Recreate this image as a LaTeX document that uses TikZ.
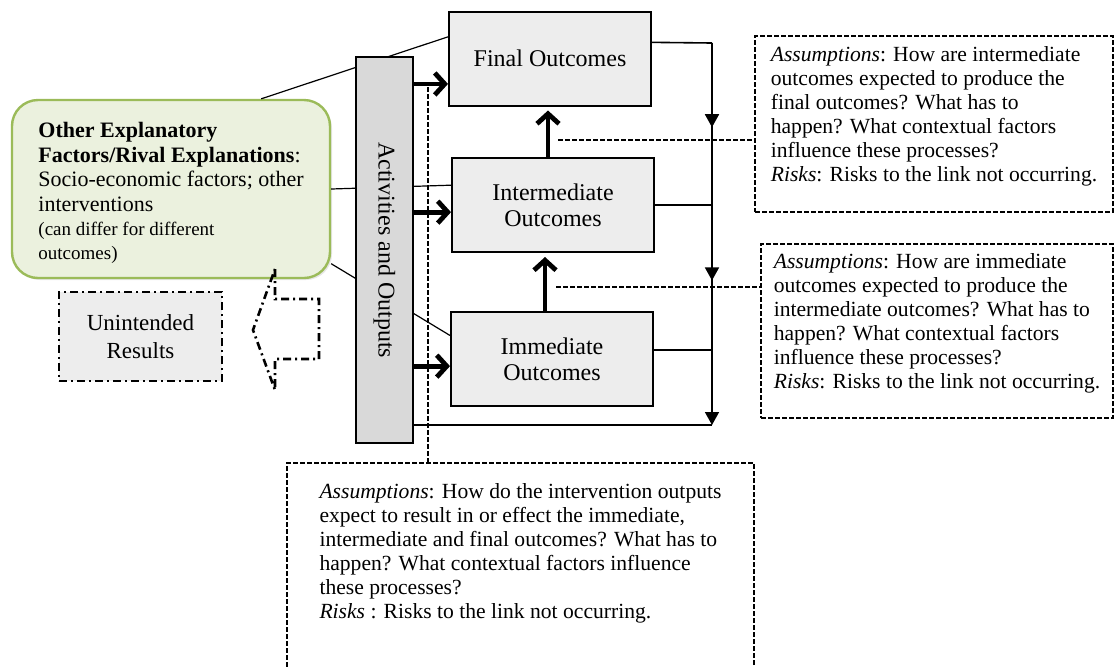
\documentclass[tikz,border=0pt]{standalone}
\usepackage{fontspec}
\setmainfont{Liberation Serif}
\usepackage{xcolor}
\usetikzlibrary{arrows.meta,shadows,decorations.markings}

\definecolor{rivalfill}{HTML}{EBF1DE}
\definecolor{rivaldraw}{HTML}{9BBB59}
\definecolor{boxgray}{HTML}{EDEDED}
\definecolor{bargray}{HTML}{D9D9D9}

\begin{document}
\begin{tikzpicture}[x=0.5pt,y=-0.5pt,
  outcome/.style={draw,fill=boxgray,line width=1pt,minimum width=101pt,minimum height=47pt,align=center,font=\fontsize{12}{13}\selectfont},
  assume/.style={draw,dash pattern=on 2.5pt off 1pt,line width=1.2pt,align=left,font=\fontsize{10.8}{12}\selectfont},
  dashdot/.style={dash pattern=on 4pt off 2pt on 1pt off 2pt,line width=1.3pt},
  link/.style={dash pattern=on 2.5pt off 1pt,line width=1.2pt},
  push/.style={line width=2.4pt,-{Straight Barb[length=5pt,width=11pt]}},
  loopline/.style={line width=0.8pt},
  midarrow/.style={postaction={decorate},decoration={markings,mark=at position 0.52 with {\arrow{Triangle[length=6.5pt,width=7pt]}}}},
  rivalline/.style={line width=0.6pt}]

\useasboundingbox (0,0) rectangle (1115,666);

% rival explanations and the outcome chain
\node[draw=rivaldraw,fill=rivalfill,line width=1.2pt,rounded corners=13pt,minimum width=159pt,minimum height=89pt,align=left,text height=73pt,font=\fontsize{11}{12.2}\selectfont,drop shadow={opacity=0.2,shadow xshift=1pt,shadow yshift=-1pt}] (other) at (171,189)
  {\textbf{Other Explanatory}\\\textbf{Factors/Rival Explanations}:\\Socio-economic factors; other\\interventions\\{\fontsize{9.5}{12.2}\selectfont(can differ for different}\\{\fontsize{9.5}{12.2}\selectfont outcomes)}};
\node[outcome] (final) at (550,58.5) {Final Outcomes};
\node[outcome] (inter) at (553,205) {Intermediate\\Outcomes};
\node[outcome] (immed) at (552,359) {Immediate\\Outcomes};

\draw[rivalline] (other.45) -- (final.168);
\draw[rivalline] (other.east) -- (inter.169);
\draw[rivalline] (other.-25) -- (immed.167);

\node[draw,fill=bargray,line width=1pt,rotate=-90,minimum width=193pt,minimum height=28.5pt,font=\fontsize{12}{13}\selectfont] (bar) at (384.5,250) {Activities and Outputs};

\node[draw,fill=boxgray,dashdot,minimum width=81.5pt,minimum height=44.5pt,align=center,font=\fontsize{11.5}{14}\selectfont] (unint) at (140.5,336.5) {Unintended\\Results};
\draw[dashdot] (275,269) -- (275,299) -- (319,299) -- (319,359) -- (275,359) -- (275,390) -- (253,330) -- cycle;

\draw[push] (bar.north |- final.194) -- (final.194);
\draw[push] (bar.north |- inter.184) -- (inter.184);
\draw[push] (bar.north |- immed.184) -- (immed.184);
\draw[push,shorten >=2pt] ([xshift=-2.5pt]inter.north) -- ([xshift=-2.5pt]inter.north |- final.south);
\draw[push,shorten >=2pt] ([xshift=-3.5pt]immed.north) -- ([xshift=-3.5pt]immed.north |- inter.south);

% feedback loop on the right
\coordinate (ltop) at (712,43);
\coordinate (lbot) at (712,425);
\draw[loopline] (final.9) -- (ltop);
\draw[loopline,midarrow] (ltop) -- (inter.east -| ltop);
\draw[loopline] (inter.east) -- (inter.east -| ltop);
\draw[loopline,midarrow] (inter.east -| ltop) -- (immed.5 -| ltop);
\draw[loopline] (immed.5) -- (immed.5 -| ltop);
\draw[loopline,-{Triangle[length=6.5pt,width=7pt]}] (immed.5 -| ltop) -- (lbot);
\draw[loopline] (bar.north |- lbot) -- (lbot);

% assumptions and risks
\node[assume,minimum width=179pt,minimum height=88pt,text depth=10pt] (ass1) at (934,124)
  {\textit{Assumptions}: How are intermediate\\outcomes expected to produce the\\final outcomes? What has to\\happen? What contextual factors\\influence these processes?\\\textit{Risks}: Risks to the link not occurring.};
\node[assume,minimum width=176pt,minimum height=87pt,text depth=10pt] (ass2) at (937,331)
  {\textit{Assumptions}: How are immediate\\outcomes expected to produce the\\intermediate outcomes? What has to\\happen? What contextual factors\\influence these processes?\\\textit{Risks}: Risks to the link not occurring.};
\node[assume,anchor=north,minimum width=233.5pt,inner ysep=10pt,text depth=60pt] (ass3) at (520.5,462)
  {\textit{Assumptions}: How do the intervention outputs\\expect to result in or effect the immediate,\\intermediate and final outcomes? What has to\\happen? What contextual factors influence\\these processes?\\\textit{Risks} : Risks to the link not occurring.};

\coordinate (d1) at (558,140);
\coordinate (d2) at (556,287);
\coordinate (d3) at (428,87);
\draw[link] (d1) -- (d1 -| ass1.west);
\draw[link] (d2) -- (d2 -| ass2.west);
\draw[link] (d3) -- (d3 |- ass3.north);

\end{tikzpicture}
\end{document}
